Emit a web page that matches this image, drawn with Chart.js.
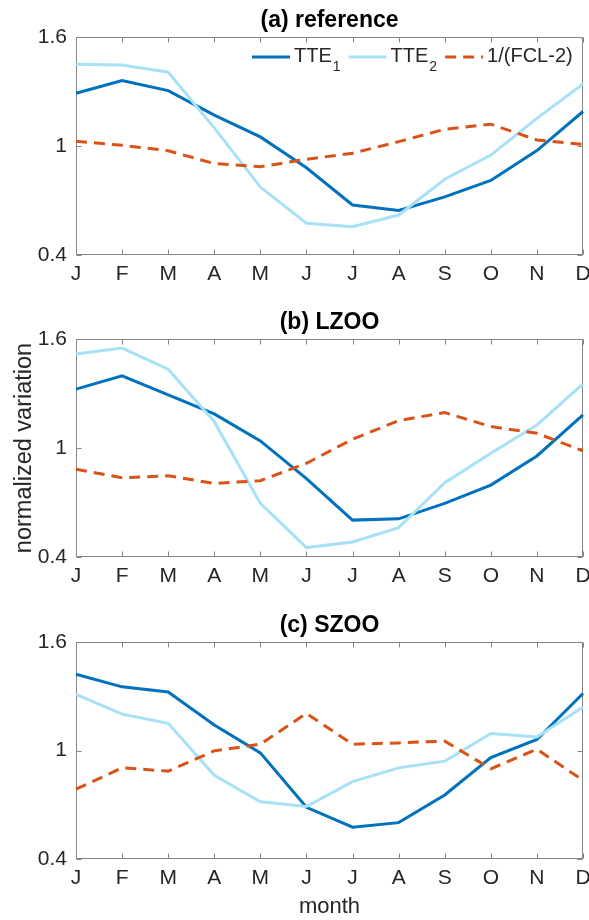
<!DOCTYPE html>
<html>
<head>
<meta charset="utf-8">
<script src="https://cdn.jsdelivr.net/npm/chart.js@4.4.1/dist/chart.umd.min.js"></script>
<style>
  html, body { margin: 0; padding: 0; background: #fff; overflow: hidden; }
  canvas { display: block; }
</style>
</head>
<body>
<canvas id="chartA" width="589" height="290"></canvas>
<canvas id="chartB" width="589" height="300"></canvas>
<canvas id="chartC" width="589" height="330"></canvas>
<script>
// months on the x axis
const months = ["J", "F", "M", "A", "M", "J", "J", "A", "S", "O", "N", "D"];
const yTicks = [0.4, 1, 1.6];

// (a) reference
const refTTE1 = [1.29, 1.36, 1.305, 1.17, 1.05, 0.88, 0.675, 0.645, 0.72, 0.81, 0.975, 1.19];
const refTTE2 = [1.45, 1.446, 1.406, 1.10, 0.774, 0.575, 0.556, 0.62, 0.817, 0.95, 1.152, 1.341];
const refFCL = [1.026, 1.004, 0.974, 0.903, 0.886, 0.927, 0.96, 1.024, 1.092, 1.12, 1.033, 1.009];

// (b) LZOO
const lzTTE1 = [1.324, 1.397, 1.293, 1.188, 1.039, 0.831, 0.603, 0.61, 0.695, 0.796, 0.956, 1.182];
const lzTTE2 = [1.517, 1.55, 1.434, 1.145, 0.695, 0.452, 0.483, 0.562, 0.809, 0.971, 1.127, 1.353];
const lzFCL = [0.883, 0.836, 0.847, 0.805, 0.82, 0.916, 1.048, 1.151, 1.195, 1.118, 1.081, 0.984];

// (c) SZOO
const szTTE1 = [1.422, 1.352, 1.324, 1.141, 0.987, 0.686, 0.576, 0.601, 0.754, 0.961, 1.061, 1.315];
const szTTE2 = [1.31, 1.201, 1.15, 0.863, 0.716, 0.69, 0.828, 0.904, 0.941, 1.094, 1.075, 1.241];
const szFCL = [0.786, 0.904, 0.886, 0.998, 1.035, 1.205, 1.035, 1.042, 1.052, 0.899, 1.007, 0.835];

const seriesNames = ["TTE1", "TTE2", "1/(FCL-2)"];
const legendText = ["TTE", "TTE", "1/(FCL-2)"];
const legendSub = ["1", "2", ""];

const colTTE1 = "#0072BD";
const colTTE2 = "#A6E1F7";
const colFCL = "#D95319";
const textCol = "#262626";
const fontName = "'Liberation Sans', Arial, Helvetica, sans-serif";

Chart.defaults.font.family = fontName;

// matlab style box with inward ticks
const boxPlugin = {
    id: "boxTicks",
    beforeDatasetsDraw(chart) {
        const ctx = chart.ctx;
        const a = chart.chartArea;
        const x = chart.scales.x;
        const y = chart.scales.y;
        const L = Math.round(a.left) + 0.5;
        const R = Math.round(a.right) - 0.5;
        const T = Math.round(a.top) + 0.5;
        const B = Math.round(a.bottom) - 0.5;
        ctx.save();
        ctx.strokeStyle = "#858585";
        ctx.lineWidth = 1;
        ctx.strokeRect(L, T, R - L, B - T);
        ctx.beginPath();
        x.ticks.forEach((t, i) => {
            const px = Math.round(x.getPixelForTick(i)) + 0.5;
            ctx.moveTo(px, B); ctx.lineTo(px, B - 5);
            ctx.moveTo(px, T); ctx.lineTo(px, T + 5);
        });
        y.ticks.forEach((t, i) => {
            const py = Math.round(y.getPixelForTick(i)) + 0.5;
            ctx.moveTo(L, py); ctx.lineTo(L + 5, py);
            ctx.moveTo(R, py); ctx.lineTo(R - 5, py);
        });
        ctx.stroke();
        ctx.restore();
    }
};

// legend with subscripts, inside panel (a)
const legendPlugin = {
    id: "mlLegend",
    afterDatasetsDraw(chart) {
        const ctx = chart.ctx;
        const a = chart.chartArea;
        let xPos = a.right - 331;
        const yLine = a.top + 20;
        chart.data.datasets.forEach((ds, i) => {
            ctx.save();
            ctx.strokeStyle = ds.borderColor;
            ctx.lineWidth = ds.borderWidth;
            ctx.setLineDash(ds.borderDash || []);
            ctx.beginPath();
            ctx.moveTo(xPos, yLine);
            ctx.lineTo(xPos + 38, yLine);
            ctx.stroke();
            ctx.setLineDash([]);
            ctx.fillStyle = textCol;
            ctx.textAlign = "left";
            ctx.textBaseline = "alphabetic";
            ctx.font = "20px " + fontName;
            let tx = xPos + 42;
            ctx.fillText(legendText[i], tx, yLine + 5);
            tx += ctx.measureText(legendText[i]).width;
            if (legendSub[i]) {
                ctx.font = "14px " + fontName;
                ctx.fillText(legendSub[i], tx + 1, yLine + 14);
                tx += ctx.measureText(legendSub[i]).width + 1;
            }
            ctx.restore();
            xPos = tx + 8;
        });
    }
};

function makePanel(id, title, tte1, tte2, fcl, opts) {
    return new Chart(document.getElementById(id), {
        type: "line",
        data: {
            labels: months,
            datasets: [
                { label: seriesNames[0], data: tte1, borderColor: colTTE1, borderWidth: 3, pointRadius: 0, tension: 0, order: 3 },
                { label: seriesNames[1], data: tte2, borderColor: colTTE2, borderWidth: 3, pointRadius: 0, tension: 0, order: 2 },
                { label: seriesNames[2], data: fcl, borderColor: colFCL, borderWidth: 3, borderDash: [11, 7], pointRadius: 0, tension: 0, order: 1 }
            ]
        },
        options: {
            responsive: false,
            animation: false,
            devicePixelRatio: 1,
            layout: { padding: { left: 0, right: 6, top: 0, bottom: 0 } },
            plugins: {
                legend: { display: false },
                tooltip: { enabled: false },
                title: {
                    display: true,
                    text: title,
                    fullSize: false,
                    color: "#000",
                    font: { size: 23, weight: "bold" },
                    padding: { top: opts.titleTop, bottom: 3 }
                }
            },
            scales: {
                x: {
                    type: "category",
                    grid: { display: false, drawTicks: false },
                    border: { display: false },
                    ticks: { color: textCol, font: { size: 21 }, padding: 7, maxRotation: 0, autoSkip: false },
                    title: {
                        display: !!opts.xTitle,
                        text: "month",
                        color: textCol,
                        font: { size: 22 },
                        padding: { top: 0, bottom: 0 }
                    },
                    afterFit(s) {
                        s.height = opts.xHeight;
                        s.paddingLeft = 0;
                        s.paddingRight = 0;
                    }
                },
                y: {
                    min: 0.4,
                    max: 1.6,
                    afterBuildTicks(s) {
                        s.ticks = yTicks.map(v => ({ value: v }));
                    },
                    grid: { display: false, drawTicks: false },
                    border: { display: false },
                    ticks: {
                        color: textCol,
                        font: { size: 21 },
                        padding: 9,
                        callback: v => String(v)
                    },
                    title: {
                        display: !!opts.yTitle,
                        text: "normalized variation",
                        color: textCol,
                        font: { size: 23.5 },
                        padding: { top: 10, bottom: 0 }
                    },
                    afterFit(s) {
                        s.width = 76;
                    }
                }
            }
        },
        plugins: opts.legend ? [boxPlugin, legendPlugin] : [boxPlugin]
    });
}

makePanel("chartA", "(a) reference", refTTE1, refTTE2, refFCL, { titleTop: 6.4, xHeight: 35, legend: true });
makePanel("chartB", "(b) LZOO", lzTTE1, lzTTE2, lzFCL, { titleTop: 18.4, xHeight: 33, yTitle: true });
makePanel("chartC", "(c) SZOO", szTTE1, szTTE2, szFCL, { titleTop: 21.4, xHeight: 61, xTitle: true });
</script>
</body>
</html>
